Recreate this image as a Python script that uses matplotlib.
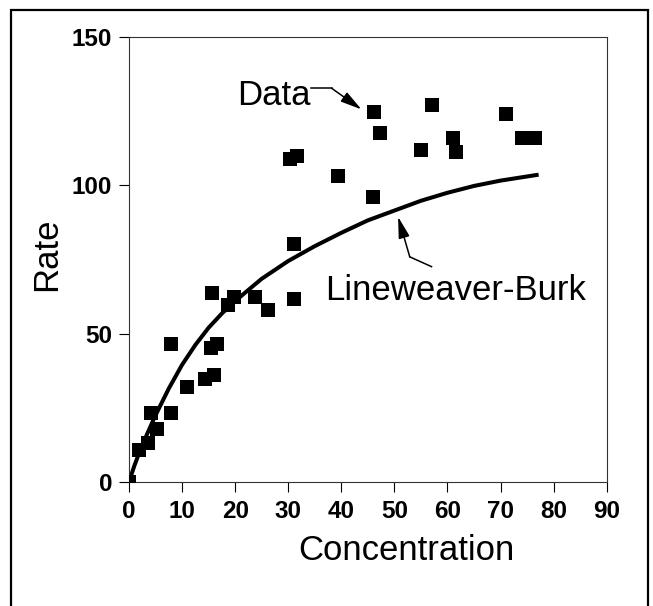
import numpy as np
import matplotlib.pyplot as plt
from matplotlib.patches import Rectangle

plt.rcParams['font.family'] = ['Liberation Sans', 'DejaVu Sans']

# ========== DATA ==========
conc = [0.0, 1.9, 3.6, 4.1, 5.2, 7.9, 7.9, 11.0, 14.4, 15.4, 15.6, 16.0, 16.5,
        18.7, 19.7, 23.7, 26.1, 30.3, 31.6, 31.0, 31.1, 39.3, 46.0, 46.2, 47.3,
        55.0, 57.0, 61.0, 61.6, 71.0, 74.0, 76.5]
rate = [0.0, 10.8, 13.0, 23.4, 17.8, 46.5, 23.4, 32.1, 34.6, 45.1, 63.6, 36.1, 46.5,
        59.7, 62.5, 62.5, 58.0, 108.8, 109.9, 80.1, 61.7, 103.2, 96.2, 124.8, 117.5,
        111.9, 127.1, 116.0, 111.1, 124.0, 116.0, 116.0]

# Lineweaver-Burk fitted curve
fit_x = [0, 1, 2, 3.5, 5, 7.5, 10, 12.5, 15, 17.5, 20, 25, 30, 35, 40, 45, 50,
         55, 60, 65, 70, 76.8]
fit_y = [0, 5.4, 10.2, 16.5, 22.5, 31.5, 39.5, 46.2, 52.0, 56.8, 61.0, 68.5,
         74.5, 79.5, 84.0, 88.2, 91.5, 94.8, 97.5, 99.8, 101.6, 103.5]

x_ticks = [0, 10, 20, 30, 40, 50, 60, 70, 80, 90]
y_ticks = [0, 50, 100, 150]

# ========== FIGURE ==========
fig = plt.figure(figsize=(6.53, 6.06), dpi=100)
ax = fig.add_axes([0.1975, 0.2046, 0.7316, 0.7343])

ax.plot(fit_x, fit_y, color='black', lw=2.9, solid_joinstyle='round', zorder=2)
ax.plot(conc, rate, ls='none', marker='s', ms=9.5, mew=0,
        color='black', zorder=3)

ax.set_xlim(0, 90)
ax.set_ylim(0, 150)
ax.set_xticks(x_ticks)
ax.set_yticks(y_ticks)
ax.tick_params(direction='out', length=7.2, width=0.8, pad=5,
               labelsize=17.5, colors='black')
ax.tick_params(axis='x', pad=6)
for lbl in ax.get_xticklabels() + ax.get_yticklabels():
    lbl.set_fontweight('bold')
for sp in ax.spines.values():
    sp.set_linewidth(0.8)
    sp.set_color('#333333')

# axis titles
fig.text(406 / 653, 1 - 560 / 606, 'Concentration', fontsize=25,
         ha='center', va='baseline')
fig.text(47 / 653, 1 - 254 / 606, 'Rate', fontsize=25, rotation=90,
         ha='center', va='center')

# annotations
head = dict(arrowstyle='-|>,head_length=0.65,head_width=0.17', color='black',
            lw=1.1, mutation_scale=20, shrinkA=0, shrinkB=0)

ax.text(20.3, 127.1, 'Data', fontsize=25, ha='left', va='baseline')
ax.plot([34.3, 38.2], [132.7, 132.7], color='black', lw=1.1)
ax.annotate('', xy=(43.8, 125.6), xytext=(38.2, 132.7), arrowprops=head)

ax.text(36.9, 61.3, 'Lineweaver-Burk', fontsize=25, ha='left', va='baseline')
ax.plot([57.0, 52.9], [72.6, 75.9], color='black', lw=1.1)
ax.annotate('', xy=(50.7, 89.4), xytext=(52.9, 75.9), arrowprops=head)

# outer frame around the whole figure (bottom edge falls off the image)
fig.add_artist(Rectangle((11 / 653, -0.05), (648 - 11) / 653, 1.05 - 10 / 606,
                         transform=fig.transFigure, fill=False,
                         lw=1.6, edgecolor='black'))

fig.savefig('out.png', dpi=100)
